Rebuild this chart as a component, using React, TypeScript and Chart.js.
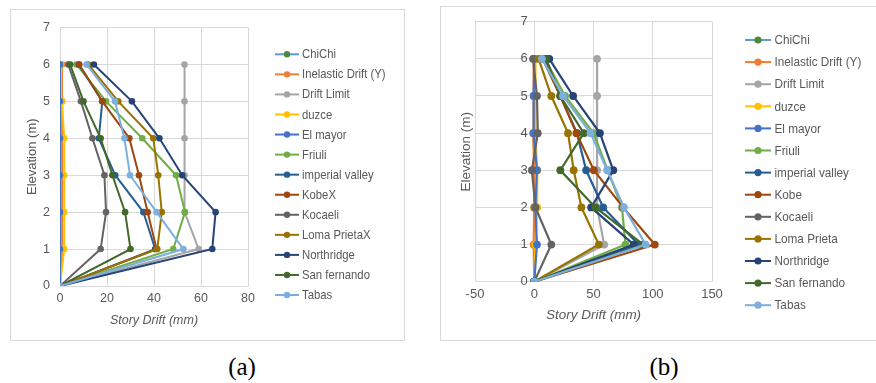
import React, { useEffect, useRef } from 'react';
import { Chart, registerables } from 'chart.js';

Chart.register(...registerables);

// ---------- data ----------
const levels = [0, 1, 2, 3, 4, 5, 6];

const labelsA = ['ChiChi', 'Inelastic Drift (Y)', 'Drift Limit', 'duzce', 'El mayor', 'Friuli', 'imperial valley', 'KobeX', 'Kocaeli', 'Loma PrietaX', 'Northridge', 'San fernando', 'Tabas'];
const labelsB = ['ChiChi', 'Inelastic Drift (Y)', 'Drift Limit', 'duzce', 'El mayor', 'Friuli', 'imperial valley', 'Kobe', 'Kocaeli', 'Loma Prieta', 'Northridge', 'San fernando', 'Tabas'];

const lineColors = ['#5B9BD5', '#ED7D31', '#A5A5A5', '#FFC000', '#4472C4', '#70AD47', '#255E91', '#9E480E', '#636363', '#997300', '#264478', '#43682B', '#7CAFDD'];
const markerColors = ['#4E8A3E', '#ED7D31', '#A5A5A5', '#FFC000', '#4472C4', '#70AD47', '#255E91', '#9E480E', '#636363', '#997300', '#264478', '#43682B', '#7CAFDD'];

// Panel (a) story drift (mm) at levels 0..6
const aChiChi = [0, 0, 0, 0, 0, 0, 0];
const aInelastic = [0, 0.9, 0.9, 0.9, 0.9, 0.9, 0.9];
const aDriftLimit = [0, 59, 53, 53, 53, 53, 53];
const aDuzce = [0, 1.8, 1.8, 1.8, 1.8, 0.8, 0.5];
const aElMayor = [0, 0, 0, 0, 0, 0, 0];
const aFriuli = [0, 48.2, 53.2, 49.4, 35, 19.6, 7];
const aImperial = [0, 40.5, 35.5, 23.5, 16.5, 18, 8];
const aKobe = [0, 41.1, 37.3, 33.6, 29.5, 18, 8.2];
const aKocaeli = [0, 17.3, 19.6, 18.9, 13.8, 8.9, 3.5];
const aLoma = [0, 41.4, 43.3, 41.8, 39.7, 24.8, 12];
const aNorthridge = [0, 64.8, 66.2, 52, 42.3, 30.6, 14.4];
const aSanFernando = [0, 30, 27.7, 22.3, 17.3, 10, 4.3];
const aTabas = [0, 52.5, 41.1, 29.8, 27.4, 23.4, 11.3];

// Panel (b) story drift (mm) at levels 0..6
const bChiChi = [0, 0, 0, 0, 0, 0, 0];
const bInelastic = [0, -0.5, 0, 0, -1, -0.5, -0.5];
const bDriftLimit = [0, 59, 53, 53, 53, 53, 53];
const bDuzce = [0, 1, 2.5, 2.5, 1, 1, 1];
const bElMayor = [0, 2.3, 1, 2.3, -0.5, -0.5, 0];
const bFriuli = [0, 77, 74, 62, 50, 26, 9];
const bImperial = [0, 88, 58.2, 43.8, 36, 22, 9];
const bKobe = [0, 101.7, 75, 50.3, 35.6, 22, 7];
const bKocaeli = [0, 14.4, 1, -2, 3, 2.3, -1];
const bLoma = [0, 54.5, 39.8, 33.3, 28.5, 14.4, 3.7];
const bNorthridge = [0, 84, 48, 66.7, 55.4, 32.8, 12.7];
const bSanFernando = [0, 92, 51.7, 22, 41.8, 22, 10];
const bTabas = [0, 94, 75.7, 61.6, 47.5, 24.3, 6.5];

const seriesA = [aChiChi, aInelastic, aDriftLimit, aDuzce, aElMayor, aFriuli, aImperial, aKobe, aKocaeli, aLoma, aNorthridge, aSanFernando, aTabas];
const seriesB = [bChiChi, bInelastic, bDriftLimit, bDuzce, bElMayor, bFriuli, bImperial, bKobe, bKocaeli, bLoma, bNorthridge, bSanFernando, bTabas];

const xTicksA = { min: 0, max: 80, step: 20 };
const xTicksB = { min: -50, max: 150, step: 50 };
const yTicks = { min: 0, max: 7, step: 1 };

const xTitle = 'Story Drift (mm)';
const yTitle = 'Elevation (m)';

// ---------- styling ----------
const FONT = "'Liberation Sans', Arial, sans-serif";
const TEXT = '#595959';
const GRID = '#D9D9D9';

const sideLegend = {
  id: 'sideLegend',
  afterDraw(chart: any, _args: any, opts: any) {
    const ctx = chart.ctx;
    ctx.save();
    ctx.font = `${opts.fontSize}px ${FONT}`;
    ctx.textBaseline = 'middle';
    ctx.textAlign = 'left';
    chart.data.datasets.forEach((ds: any, i: number) => {
      const y = opts.y + i * opts.spacing;
      const x = opts.x;
      ctx.strokeStyle = ds.borderColor;
      ctx.lineWidth = 2;
      ctx.beginPath();
      ctx.moveTo(x, y);
      ctx.lineTo(x + opts.lineLength, y);
      ctx.stroke();
      ctx.fillStyle = ds.pointBackgroundColor;
      ctx.beginPath();
      ctx.arc(x + opts.lineLength / 2, y, opts.radius, 0, Math.PI * 2);
      ctx.fill();
      ctx.fillStyle = TEXT;
      ctx.save();
      ctx.translate(x + opts.lineLength + opts.gap, y + 0.5);
      ctx.scale(opts.squeeze, 1);
      ctx.fillText(ds.label, 0, 0);
      ctx.restore();
    });
    ctx.restore();
  },
};

function buildDatasets(series: number[][], labels: string[], lw: number, r: number) {
  const n = series.length;
  return series.map((vals, i) => ({
    label: labels[i],
    data: levels.map((lv, k) => ({ x: vals[k], y: lv })),
    showLine: true,
    borderColor: lineColors[i],
    backgroundColor: markerColors[i],
    pointBackgroundColor: markerColors[i],
    pointBorderColor: markerColors[i],
    borderWidth: lw,
    pointRadius: r,
    pointBorderWidth: 0,
    pointHoverRadius: r,
    order: n - i,
  }));
}

function configA(): any {
  return {
    type: 'scatter',
    data: { datasets: buildDatasets(seriesA, labelsA, 2, 3.3) },
    options: {
      responsive: false,
      animation: false,
      layout: { padding: { left: 0, top: 13, right: 155, bottom: 0 } },
      plugins: {
        legend: { display: false },
        tooltip: { enabled: false },
        sideLegend: { x: 264, y: 44.3, spacing: 20.06, lineLength: 24, gap: 3, radius: 3.2, fontSize: 13, squeeze: 0.87 },
      },
      scales: {
        x: {
          type: 'linear',
          min: xTicksA.min,
          max: xTicksA.max,
          ticks: { stepSize: xTicksA.step, color: TEXT, font: { family: FONT, size: 12.5 }, padding: 5 },
          grid: { color: GRID, drawTicks: false, lineWidth: 1 },
          border: { color: GRID },
          title: { display: true, text: xTitle, color: TEXT, font: { family: FONT, size: 12.5, style: 'italic' }, padding: { top: 0, bottom: 11 } },
          afterFit: (s: any) => { s.height = 53; },
        },
        y: {
          type: 'linear',
          min: yTicks.min,
          max: yTicks.max,
          ticks: { stepSize: yTicks.step, color: TEXT, font: { family: FONT, size: 12.5 }, padding: 10 },
          grid: { color: GRID, drawTicks: false },
          border: { color: GRID },
          title: { display: true, text: yTitle, color: TEXT, font: { family: FONT, size: 13 }, padding: { top: 14, bottom: 0 } },
          afterFit: (s: any) => { s.width = 49; },
        },
      },
    },
    plugins: [sideLegend],
  };
}

function configB(): any {
  return {
    type: 'scatter',
    data: { datasets: buildDatasets(seriesB, labelsB, 2.2, 3.9) },
    options: {
      responsive: false,
      animation: false,
      layout: { padding: { left: 0, top: 14.7, right: 164, bottom: 0 } },
      plugins: {
        legend: { display: false },
        tooltip: { enabled: false },
        sideLegend: { x: 304, y: 33, spacing: 22.1, lineLength: 26, gap: 3.5, radius: 3.6, fontSize: 13.5, squeeze: 0.87 },
      },
      scales: {
        x: {
          type: 'linear',
          min: xTicksB.min,
          max: xTicksB.max,
          ticks: { stepSize: xTicksB.step, color: TEXT, font: { family: FONT, size: 13 }, padding: 5 },
          grid: { color: GRID, drawTicks: false },
          border: { color: GRID },
          title: { display: true, text: xTitle, color: TEXT, font: { family: FONT, size: 13.5, style: 'italic' }, padding: { top: 0, bottom: 16 } },
          afterFit: (s: any) => { s.height = 57.3; },
        },
        y: {
          type: 'linear',
          min: yTicks.min,
          max: yTicks.max,
          ticks: { display: false, stepSize: yTicks.step },
          grid: { color: GRID, drawTicks: false },
          border: { color: GRID },
          title: { display: true, text: yTitle, color: TEXT, font: { family: FONT, size: 13.5 }, padding: { top: 17, bottom: 0 } },
          afterFit: (s: any) => { s.width = 34; },
        },
        y2: {
          type: 'linear',
          axis: 'y',
          position: { x: -5.5 },
          min: yTicks.min,
          max: yTicks.max,
          ticks: { stepSize: yTicks.step, color: TEXT, font: { family: FONT, size: 13 } },
          grid: { display: false, drawTicks: false },
          border: { display: false },
        },
      },
    },
    plugins: [sideLegend],
  };
}

function ChartCanvas({ make, left, top, width, height }: any) {
  const ref = useRef<HTMLCanvasElement | null>(null);
  useEffect(() => {
    if (!ref.current) return;
    const chart = new Chart(ref.current, make());
    return () => chart.destroy();
  }, []);
  return (
    <canvas
      ref={ref}
      width={width}
      height={height}
      style={{ position: 'absolute', left, top, width, height }}
    />
  );
}

export default function App() {
  const frame: React.CSSProperties = { position: 'absolute', border: '1px solid #D9D9D9', boxSizing: 'border-box', background: '#fff' };
  const cap: React.CSSProperties = { position: 'absolute', width: 80, textAlign: 'center', fontFamily: "'Liberation Serif', 'Times New Roman', serif", fontSize: 25, color: '#000', lineHeight: '30px' };
  return (
    <div style={{ position: 'fixed', left: 0, top: 0, width: 876, height: 383, background: '#fff', overflow: 'hidden' }}>
      <div style={{ ...frame, left: 10, top: 9, width: 395, height: 332 }} />
      <div style={{ ...frame, left: 440, top: 6, width: 450, height: 335 }} />
      <ChartCanvas make={configA} left={11} top={10} width={392} height={329} />
      <ChartCanvas make={configB} left={441} top={7} width={435} height={332} />
      <div style={{ ...cap, left: 202, top: 352 }}>(a)</div>
      <div style={{ ...cap, left: 624, top: 352 }}>(b)</div>
    </div>
  );
}
